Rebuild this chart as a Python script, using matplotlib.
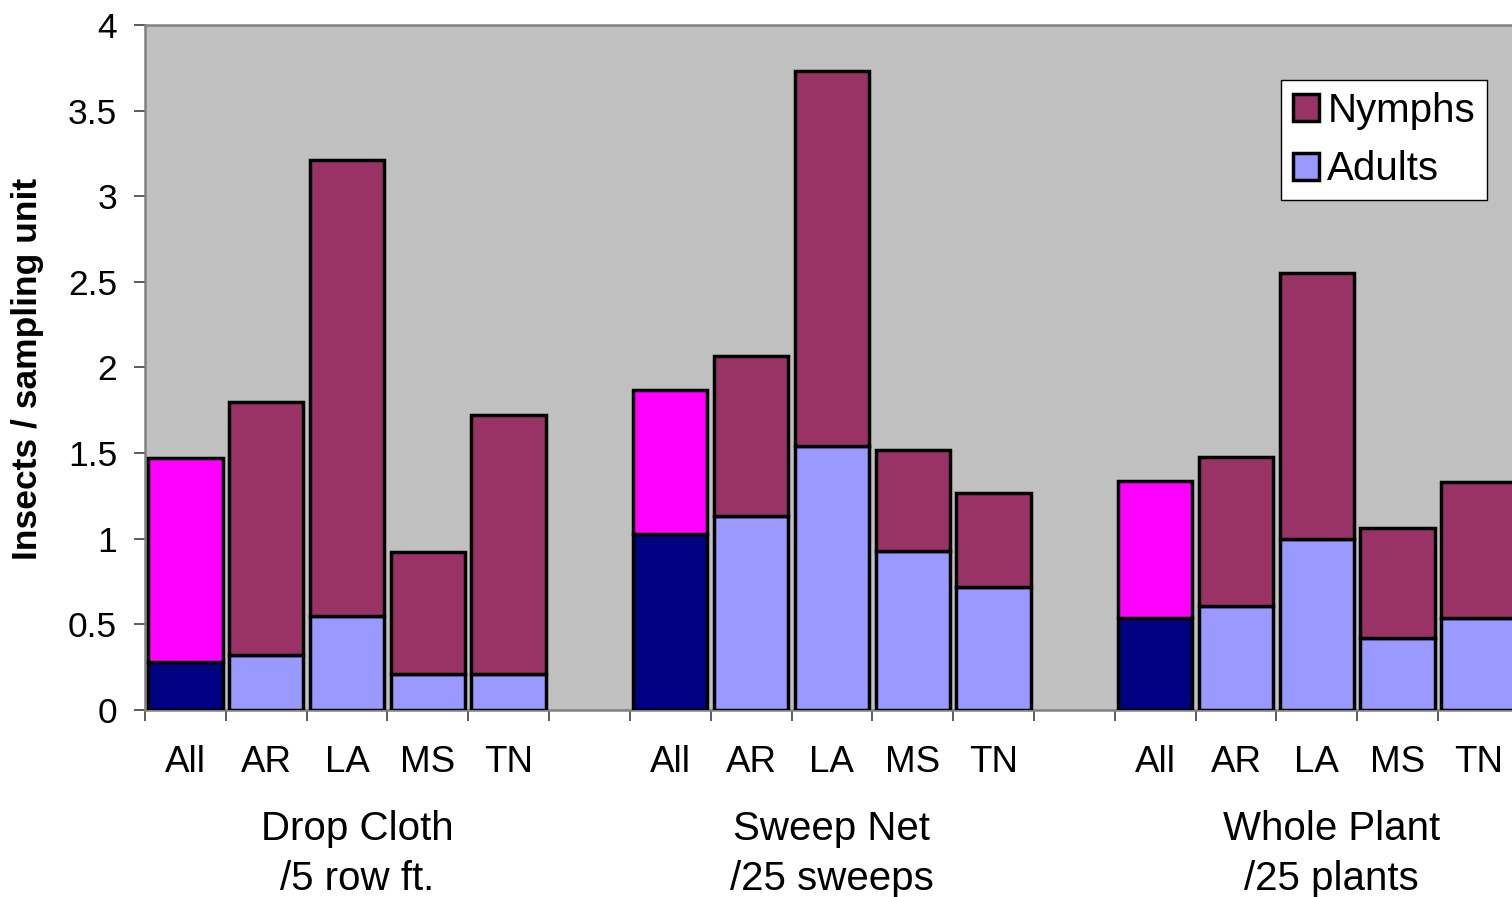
import numpy as np
import matplotlib.pyplot as plt
from matplotlib.patches import Patch

plt.rcParams['font.family'] = ['Liberation Sans', 'DejaVu Sans']

# insects per sampling unit, by method and state
states = ['All', 'AR', 'LA', 'MS', 'TN']
methods = ['Drop Cloth\n/5 row ft.', 'Sweep Net\n/25 sweeps', 'Whole Plant\n/25 plants']

adults_drop = [0.28, 0.32, 0.55, 0.21, 0.21]
nymphs_drop = [1.19, 1.48, 2.66, 0.71, 1.51]
adults_sweep = [1.03, 1.13, 1.54, 0.93, 0.72]
nymphs_sweep = [0.84, 0.94, 2.19, 0.59, 0.55]
adults_whole = [0.54, 0.61, 1.00, 0.42, 0.54]
nymphs_whole = [0.80, 0.87, 1.55, 0.64, 0.79]

adults = [adults_drop, adults_sweep, adults_whole]
nymphs = [nymphs_drop, nymphs_sweep, nymphs_whole]

C_NYMPH, C_ADULT = '#993366', '#9999FF'
C_ALL_NYMPH, C_ALL_ADULT = '#FF00FF', '#000080'

fig = plt.figure(figsize=(15.12, 8.97), dpi=100)
ax = fig.add_axes([145 / 1512, 187 / 897, 1390 / 1512, 685 / 897])
ax.set_facecolor('#C0C0C0')

n = len(states)
slot = n + 1  # one empty slot between groups
for g in range(len(methods)):
    x = g * slot + np.arange(n) + 0.5
    ac = [C_ALL_ADULT] + [C_ADULT] * (n - 1)
    nc = [C_ALL_NYMPH] + [C_NYMPH] * (n - 1)
    ax.bar(x, adults[g], width=0.92, color=ac, edgecolor='black', linewidth=2.5, zorder=3)
    ax.bar(x, nymphs[g], bottom=adults[g], width=0.92, color=nc,
           edgecolor='black', linewidth=2.5, zorder=3)
    for xi, s in zip(x, states):
        ax.text(xi, -0.305, s, ha='center', va='center', fontsize=26.5, clip_on=False)
    centre = g * slot + n / 2
    offset = [0.13, 0.0, 0.18][g]
    ax.text(centre + offset, -0.84, methods[g], ha='center', va='center', fontsize=29,
            linespacing=1.4, clip_on=False)

ax.set_xlim(0, 3 * slot - 1 + 0.2)
ax.set_ylim(0, 4)
ax.set_xticks(np.arange(0, 3 * slot))
ax.set_xticklabels([])
ax.set_yticks(np.arange(0, 4.01, 0.5))
ax.set_yticklabels(['0', '0.5', '1', '1.5', '2', '2.5', '3', '3.5', '4'])
ax.tick_params(axis='x', length=8, width=1.2, color='#404040', direction='out')
ax.tick_params(axis='y', length=8, width=1.2, color='#404040', direction='out',
               labelsize=25.5, pad=12)
for side in ['left', 'bottom', 'top']:
    ax.spines[side].set_color('#808080')
    ax.spines[side].set_linewidth(1.8)
ax.spines['right'].set_visible(False)

ax.set_ylabel('Insects / sampling unit', fontsize=25.5, fontweight='bold',
              va='center')
ax.yaxis.set_label_coords(-117 / 1390, 0.498)

handles = [Patch(facecolor=C_NYMPH, edgecolor='black', linewidth=2.5, label='Nymphs'),
           Patch(facecolor=C_ADULT, edgecolor='black', linewidth=2.5, label='Adults')]
leg = fig.legend(handles=handles, loc='upper left',
                 bbox_to_anchor=(1281 / 1512, 1 - 80 / 897), fontsize=29,
                 frameon=True, fancybox=False, framealpha=1, edgecolor='black',
                 handlelength=0.65, handleheight=0.65, handletextpad=0.2,
                 labelspacing=0.5, borderpad=0.3, borderaxespad=0)
leg.get_frame().set_linewidth(1.0)

fig.savefig('out.png', dpi=100, facecolor='white')
